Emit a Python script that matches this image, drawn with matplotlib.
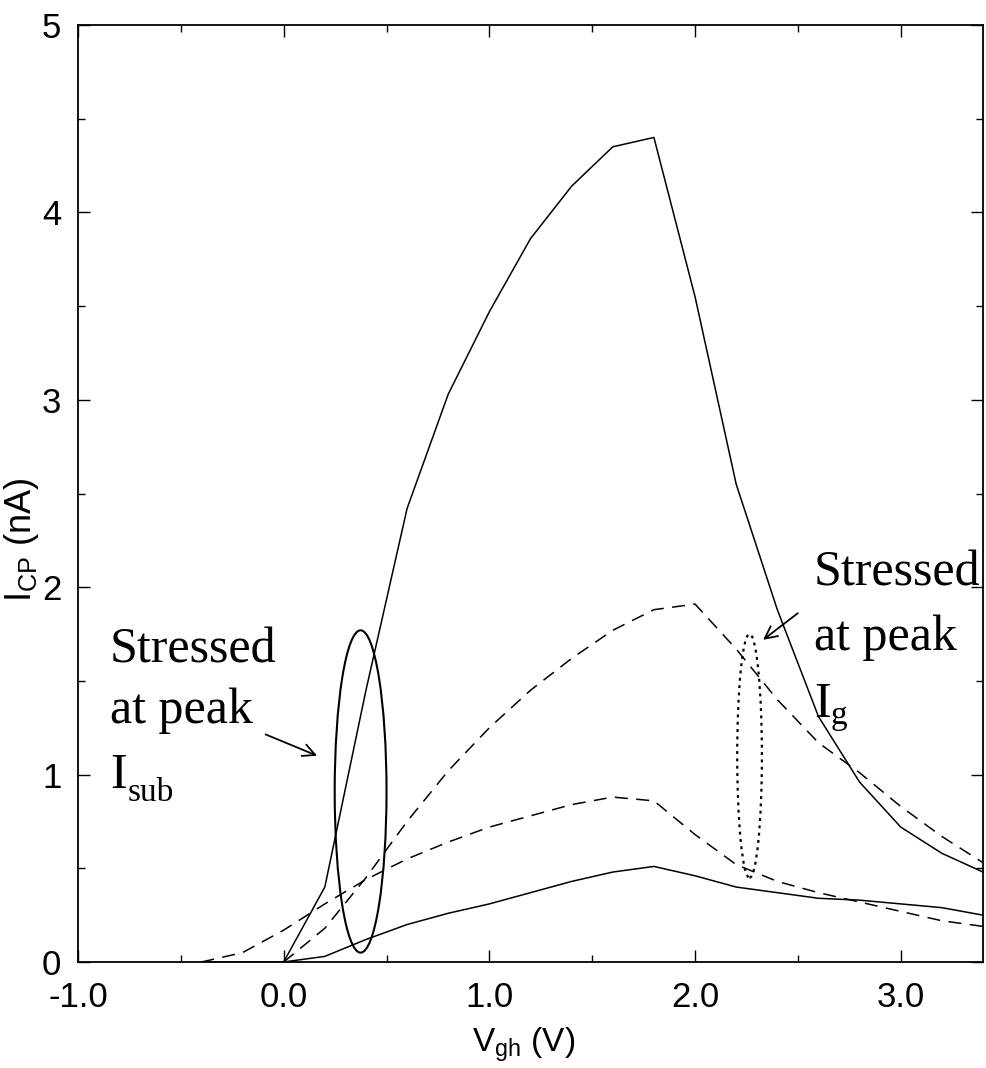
import matplotlib
matplotlib.use("Agg")
import matplotlib.pyplot as plt
from matplotlib import font_manager
from matplotlib.patches import Ellipse
from matplotlib.ticker import MultipleLocator, FixedLocator

# ---------------- data ----------------
x_s1 = [0.0, 0.2, 0.4, 0.6, 0.8, 1.0, 1.2, 1.4, 1.6, 1.8, 2.0, 2.2, 2.4, 2.6, 2.8, 3.0, 3.2, 3.4]
y_s1 = [0.0, 0.40, 1.45, 2.42, 3.03, 3.47, 3.86, 4.14, 4.35, 4.40, 3.55, 2.55, 1.88, 1.31, 0.96, 0.72, 0.58, 0.48]

x_s2 = [-0.4, 0.0, 0.2, 0.4, 0.6, 0.8, 1.0, 1.2, 1.4, 1.6, 1.8, 2.0, 2.2, 2.4, 2.6, 2.8, 3.0, 3.2, 3.4]
y_s2 = [0.0, 0.0, 0.03, 0.12, 0.20, 0.26, 0.31, 0.37, 0.43, 0.48, 0.51, 0.46, 0.40, 0.37, 0.34, 0.33, 0.31, 0.29, 0.25]

x_d1 = [0.0, 0.2, 0.4, 0.6, 0.8, 1.0, 1.2, 1.4, 1.6, 1.8, 2.0, 2.2, 2.4, 2.6, 2.8, 3.0, 3.2, 3.4]
y_d1 = [0.0, 0.18, 0.45, 0.75, 1.02, 1.25, 1.45, 1.62, 1.77, 1.88, 1.91, 1.67, 1.40, 1.17, 1.01, 0.83, 0.67, 0.53]

x_d2 = [-0.4, -0.2, 0.0, 0.2, 0.4, 0.6, 0.8, 1.0, 1.2, 1.4, 1.6, 1.8, 2.0, 2.2, 2.4, 2.6, 2.8, 3.0, 3.2, 3.4]
y_d2 = [0.0, 0.05, 0.17, 0.31, 0.44, 0.55, 0.64, 0.72, 0.78, 0.84, 0.88, 0.86, 0.68, 0.52, 0.43, 0.37, 0.32, 0.27, 0.22, 0.19]

xtick_vals = [-1.0, 0.0, 1.0, 2.0, 3.0]
xtick_labels = ["-1.0", "0.0", "1.0", "2.0", "3.0"]
ytick_vals = [0, 1, 2, 3, 4, 5]
ytick_labels = ["0", "1", "2", "3", "4", "5"]

# ---------------- fonts ----------------
available = {f.name for f in font_manager.fontManager.ttflist}
sans = "Liberation Sans Narrow" if "Liberation Sans Narrow" in available else "Liberation Sans"
serif = "Liberation Serif"
plt.rcParams["font.family"] = [sans, "DejaVu Sans"]
plt.rcParams["mathtext.fontset"] = "custom"
plt.rcParams["mathtext.rm"] = sans

W, H = 986, 1068
fig = plt.figure(figsize=(W / 100, H / 100), dpi=100)
L, R, T, B = 78, 983, 25, 962
ax = fig.add_axes([L / W, 1 - B / H, (R - L) / W, (B - T) / H])

lw = 1.1
ax.plot(x_s1, y_s1, color="black", lw=lw)
ax.plot(x_s2, y_s2, color="black", lw=lw)
ax.plot(x_d1, y_d1, color="black", lw=lw, dashes=(8.5, 5.5))
ax.plot(x_d2, y_d2, color="black", lw=lw, dashes=(8.5, 5.5))

ax.set_xlim(-1.0, 3.4)
ax.set_ylim(0, 5)

ax.xaxis.set_major_locator(FixedLocator(xtick_vals))
ax.set_xticklabels(xtick_labels)
ax.yaxis.set_major_locator(FixedLocator(ytick_vals))
ax.set_yticklabels(ytick_labels)
ax.xaxis.set_minor_locator(MultipleLocator(0.5))
ax.yaxis.set_minor_locator(MultipleLocator(0.5))

ax.tick_params(which="both", direction="in", top=True, right=True, width=1.0, colors="black")
ax.tick_params(which="major", length=8.6, labelsize=25)
ax.tick_params(which="minor", length=5)
ax.tick_params(axis="y", which="major", pad=12)
ax.tick_params(axis="x", which="major", pad=14)
for s in ax.spines.values():
    s.set_linewidth(1.3)

# axis labels
fig.text(41 / W, 1 - 540 / H, r"$\mathregular{I_{CP}}$ (nA)", rotation=90,
         ha="right", va="center", fontsize=26)
fig.text(524 / W, 1 - 1045 / H, r"$\mathregular{V_{gh}}$ (V)",
         ha="center", va="center", fontsize=24)

# annotations
ax.add_patch(Ellipse((0.374, 0.91), 0.252, 1.72, fill=False, ec="black", lw=1.5))
ax.add_patch(Ellipse((2.265, 1.10), 0.12, 1.30, fill=False, ec="black", lw=1.6,
                     linestyle=(0, (1.3, 2.0))))

ax.annotate("", xy=(0.175, 1.095), xytext=(-0.10, 1.22),
            arrowprops=dict(arrowstyle="->", color="black", lw=1.3, mutation_scale=22))
ax.annotate("", xy=(2.32, 1.71), xytext=(2.51, 1.87),
            arrowprops=dict(arrowstyle="->", color="black", lw=1.3, mutation_scale=22))

tfs = 36
ax.text(-0.845, 1.60, "Stressed", family=serif, fontsize=tfs, ha="left", va="baseline")
ax.text(-0.845, 1.275, "at peak", family=serif, fontsize=tfs, ha="left", va="baseline")
ax.text(-0.845, 0.93, "I", family=serif, fontsize=tfs, ha="left", va="baseline")
ax.text(-0.757, 0.86, "sub", family=serif, fontsize=24, ha="left", va="baseline")

ax.text(2.578, 2.01, "Stressed", family=serif, fontsize=tfs, ha="left", va="baseline")
ax.text(2.578, 1.665, "at peak", family=serif, fontsize=tfs, ha="left", va="baseline")
ax.text(2.578, 1.307, "I", family=serif, fontsize=tfs, ha="left", va="baseline")
ax.text(2.660, 1.27, "g", family=serif, fontsize=24, ha="left", va="baseline")

fig.savefig("out.png", dpi=100)
